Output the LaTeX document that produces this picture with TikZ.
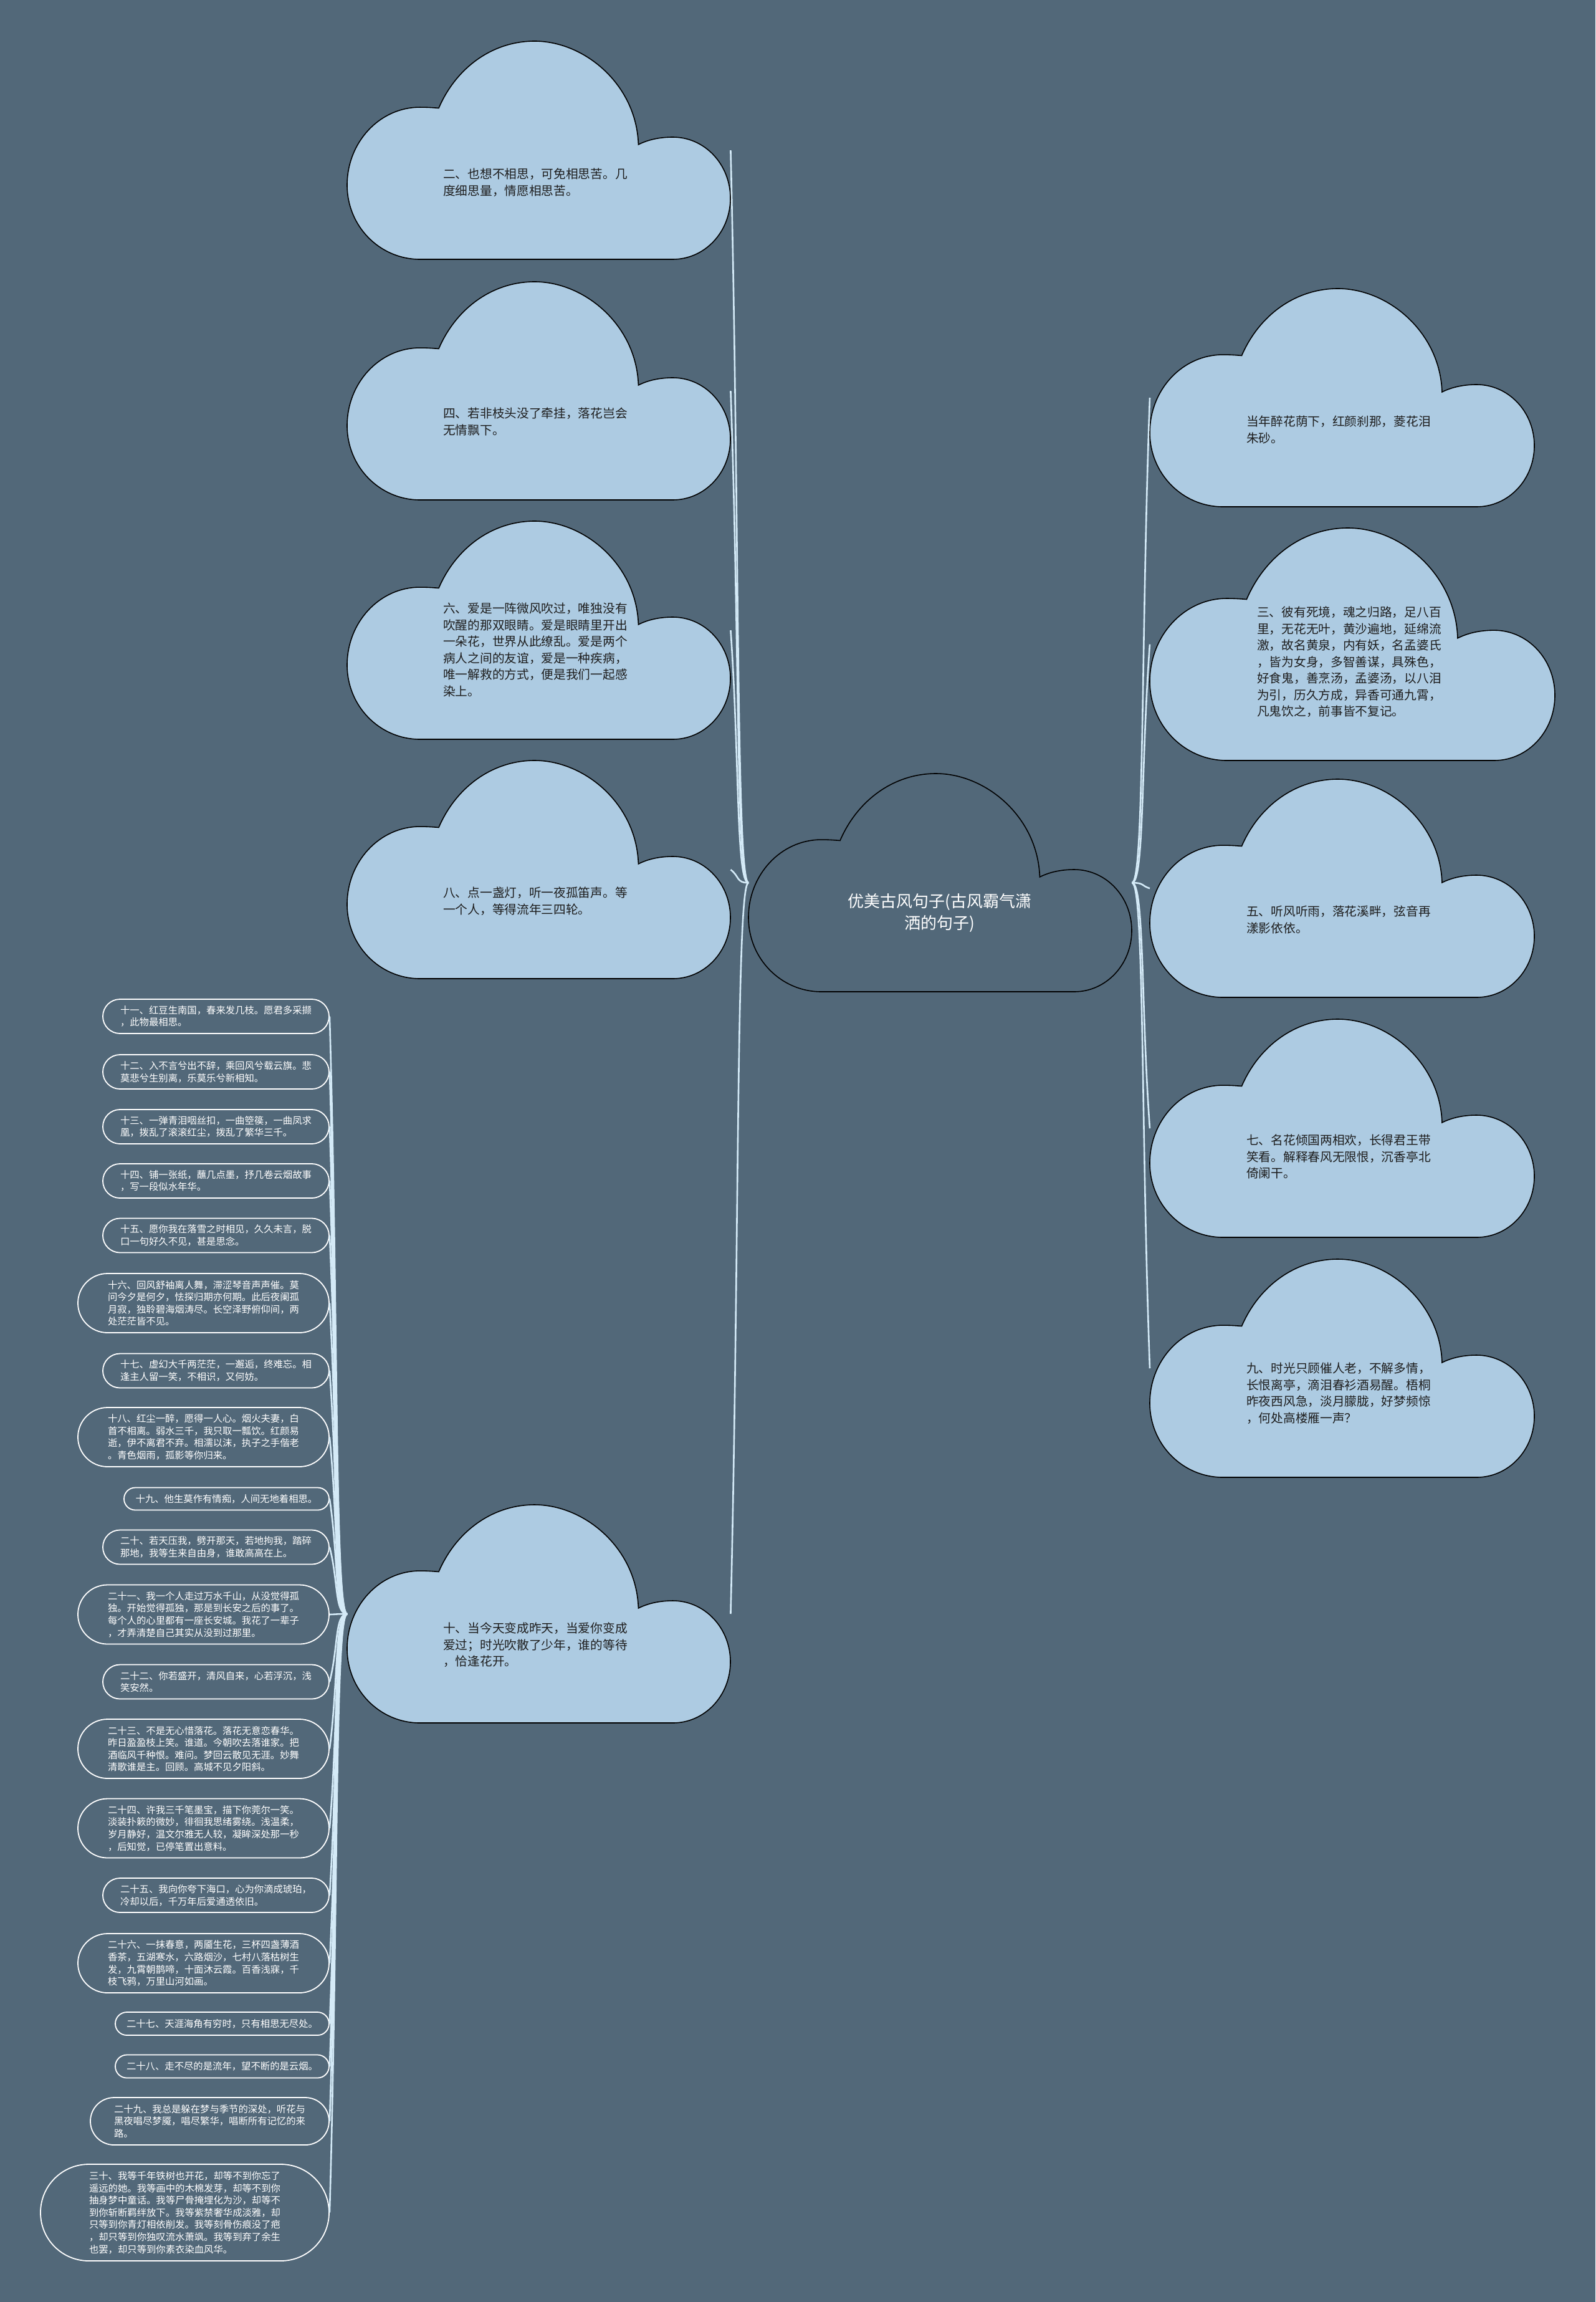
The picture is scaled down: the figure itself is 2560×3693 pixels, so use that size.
\documentclass[tikz,border=0pt]{standalone}
\usepackage{fontspec}
\newfontfamily\cjk{Noto Sans CJK SC}
\usetikzlibrary{shapes.misc,calc}
\definecolor{bgc}{RGB}{82,104,121}
\definecolor{cloudfill}{RGB}{173,203,226}
\definecolor{linkc}{RGB}{212,234,247}
\definecolor{inkc}{RGB}{30,30,30}
\newcommand{\mycloud}[6]{%
  \begin{scope}[shift={(#2,#3)},x=#4pt,y=-#5pt]
    \filldraw[fill=#6,draw=black,line width=1.6pt,line join=miter]
      (0.19,1) .. controls (0.085,1) and (0,0.848) .. (0,0.66)
      .. controls (0,0.463) and (0.085,0.303) .. (0.19,0.303)
      .. controls (0.21,0.303) and (0.225,0.305) .. (0.239,0.307)
      .. controls (0.285,0.12) and (0.38,0) .. (0.489,0)
      .. controls (0.62,0) and (0.755,0.2) .. (0.76,0.474)
      .. controls (0.785,0.452) and (0.815,0.44) .. (0.85,0.44)
      .. controls (0.933,0.44) and (1,0.565) .. (1,0.72)
      .. controls (1,0.875) and (0.933,1) .. (0.85,1) -- cycle;
  \end{scope}
  \node[cbox,minimum width=#4pt,minimum height=#5pt,anchor=north west] (#1) at (#2,#3) {};
}
\tikzset{
  cbox/.style={rectangle,draw=none,inner sep=0pt},
  ctext/.style={font=\cjk\fontsize{19.7pt}{26.5pt}\selectfont,align=left,inner sep=0pt,text=inkc,anchor=north west},
  roottext/.style={font=\cjk\fontsize{26pt}{35pt}\selectfont,align=center,inner sep=0pt,text=white},
  pill/.style={rounded rectangle,draw=white,line width=1.8pt,fill=bgc,text=white,
    font=\cjk\fontsize{15.35pt}{19.6pt}\selectfont,align=left,inner sep=0pt},
  link/.style={draw=linkc,line width=2.6pt},
}
\begin{document}
\begin{tikzpicture}[x=1pt,y=-1pt]
\fill[bgc] (0,0) rectangle (2560,3693);
\useasboundingbox (0,0) rectangle (2560,3693);

% clouds
\mycloud{C}{1201}{1241}{615}{350}{bgc}
\mycloud{L1}{557}{66}{615}{350}{cloudfill}
\mycloud{L2}{557}{452}{615}{350}{cloudfill}
\mycloud{L3}{557}{836}{615}{350}{cloudfill}
\mycloud{L4}{557}{1220}{615}{350}{cloudfill}
\mycloud{L10}{557}{2414}{615}{350}{cloudfill}
\mycloud{R1}{1845}{463}{617}{350}{cloudfill}
\mycloud{R2}{1845}{847}{650}{373}{cloudfill}
\mycloud{R3}{1845}{1250}{617}{350}{cloudfill}
\mycloud{R4}{1845}{1635}{617}{350}{cloudfill}
\mycloud{R5}{1845}{2020}{617}{350}{cloudfill}

% cloud texts
\node[roottext] (Ct) at (1508,1465) {优美古风句子(古风霸气潇\\洒的句子)};
\node[ctext] (L1t) at (711,270) {二、也想不相思，可免相思苦。几\\度细思量，情愿相思苦。};
\node[ctext] (L2t) at (711,654) {四、若非枝头没了牵挂，落花岂会\\无情飘下。};
\node[ctext] (L3t) at (711,967) {六、爱是一阵微风吹过，唯独没有\\吹醒的那双眼睛。爱是眼睛里开出\\一朵花，世界从此缭乱。爱是两个\\病人之间的友谊，爱是一种疾病，\\唯一解救的方式，便是我们一起感\\染上。};
\node[ctext] (L4t) at (711,1423) {八、点一盏灯，听一夜孤笛声。等\\一个人，等得流年三四轮。};
\node[ctext] (L10t) at (711,2603) {十、当今天变成昨天，当爱你变成\\爱过；时光吹散了少年，谁的等待\\，恰逢花开。};
\node[ctext] (R1t) at (2000,667) {当年醉花荫下，红颜刹那，菱花泪\\朱砂。};
\node[ctext] (R2t) at (2017,973) {三、彼有死境，魂之归路，足八百\\里，无花无叶，黄沙遍地，延绵流\\激，故名黄泉，内有妖，名孟婆氏\\，皆为女身，多智善谋，具殊色，\\好食鬼，善烹汤，孟婆汤，以八泪\\为引，历久方成，异香可通九霄，\\凡鬼饮之，前事皆不复记。};
\node[ctext] (R3t) at (2000,1453) {五、听风听雨，落花溪畔，弦音再\\漾影依依。};
\node[ctext] (R4t) at (2000,1820) {七、名花倾国两相欢，长得君王带\\笑看。解释春风无限恨，沉香亭北\\倚阑干。};
\node[ctext] (R5t) at (2000,2186) {九、时光只顾催人老，不解多情，\\长恨离亭，滴泪春衫酒易醒。梧桐\\昨夜西风急，淡月朦胧，好梦频惊\\，何处高楼雁一声？};

% list nodes (left of L10)
\node[pill,minimum width=363pt,minimum height=55pt] (n11) at (346.5,1630.5) {十一、红豆生南国，春来发几枝。愿君多采撷\\，此物最相思。};
\node[pill,minimum width=363pt,minimum height=55pt] (n12) at (346.5,1719.5) {十二、入不言兮出不辞，乘回风兮载云旗。悲\\莫悲兮生别离，乐莫乐兮新相知。};
\node[pill,minimum width=363pt,minimum height=55pt] (n13) at (346.5,1807.5) {十三、一弹青泪咽丝扣，一曲箜篌，一曲凤求\\凰，拨乱了滚滚红尘，拨乱了繁华三千。};
\node[pill,minimum width=363pt,minimum height=55pt] (n14) at (346.5,1894.5) {十四、铺一张纸，蘸几点墨，抒几卷云烟故事\\，写一段似水年华。};
\node[pill,minimum width=363pt,minimum height=55pt] (n15) at (346.5,1982) {十五、愿你我在落雪之时相见，久久未言，脱\\口一句好久不见，甚是思念。};
\node[pill,minimum width=403pt,minimum height=95pt] (n16) at (326.5,2090.5) {十六、回风舒袖离人舞，滞涩琴音声声催。莫\\问今夕是何夕，怯探归期亦何期。此后夜阑孤\\月寂，独聆碧海烟涛尽。长空泽野俯仰间，两\\处茫茫皆不见。};
\node[pill,minimum width=363pt,minimum height=55pt] (n17) at (346.5,2199) {十七、虚幻大千两茫茫，一邂逅，终难忘。相\\逢主人留一笑，不相识，又何妨。};
\node[pill,minimum width=403pt,minimum height=95pt] (n18) at (326.5,2305.5) {十八、红尘一醉，愿得一人心。烟火夫妻，白\\首不相离。弱水三千，我只取一瓢饮。红颜易\\逝，伊不离君不弃。相濡以沫，执子之手偕老\\。青色烟雨，孤影等你归来。};
\node[pill,minimum width=329pt,minimum height=36pt] (n19) at (363.5,2404.5) {十九、他生莫作有情痴，人间无地着相思。};
\node[pill,minimum width=363pt,minimum height=55pt] (n20) at (346.5,2482) {二十、若天压我，劈开那天，若地拘我，踏碎\\那地，我等生来自由身，谁敢高高在上。};
\node[pill,minimum width=403pt,minimum height=95pt] (n21) at (326.5,2590) {二十一、我一个人走过万水千山，从没觉得孤\\独。开始觉得孤独，那是到长安之后的事了。\\每个人的心里都有一座长安城。我花了一辈子\\，才弄清楚自己其实从没到过那里。};
\node[pill,minimum width=363pt,minimum height=55pt] (n22) at (346.5,2698) {二十二、你若盛开，清风自来，心若浮沉，浅\\笑安然。};
\node[pill,minimum width=403pt,minimum height=95pt] (n23) at (326.5,2805.5) {二十三、不是无心惜落花。落花无意恋春华。\\昨日盈盈枝上笑。谁道。今朝吹去落谁家。把\\酒临风千种恨。难问。梦回云散见无涯。妙舞\\清歌谁是主。回顾。高城不见夕阳斜。};
\node[pill,minimum width=403pt,minimum height=95pt] (n24) at (326.5,2933) {二十四、许我三千笔墨宝，描下你莞尔一笑。\\淡装扑簌的微妙，徘徊我思绪雾绕。浅温柔，\\岁月静好，温文尔雅无人较，凝眸深处那一秒\\，后知觉，已停笔置出意料。};
\node[pill,minimum width=363pt,minimum height=55pt] (n25) at (346.5,3040.5) {二十五、我向你夸下海口，心为你滴成琥珀，\\冷却以后，千万年后爱通透依旧。};
\node[pill,minimum width=403pt,minimum height=95pt] (n26) at (326.5,3149.5) {二十六、一抹春意，两靥生花，三杯四盏薄酒\\香茶，五湖寒水，六路烟沙，七村八落枯树生\\发，九霄朝鹊啼，十面沐云霞。百香浅寐，千\\枝飞鸦，万里山河如画。};
\node[pill,minimum width=343pt,minimum height=37pt] (n27) at (356.5,3246.5) {二十七、天涯海角有穷时，只有相思无尽处。};
\node[pill,minimum width=343pt,minimum height=37pt] (n28) at (356.5,3315) {二十八、走不尽的是流年，望不断的是云烟。};
\node[pill,minimum width=383pt,minimum height=76pt] (n29) at (336.5,3403) {二十九、我总是躲在梦与季节的深处，听花与\\黑夜唱尽梦魇，唱尽繁华，唱断所有记忆的来\\路。};
\node[pill,minimum width=463pt,minimum height=155pt] (n30) at (296.5,3549.5) {三十、我等千年铁树也开花，却等不到你忘了\\遥远的她。我等画中的木棉发芽，却等不到你\\抽身梦中童话。我等尸骨掩埋化为沙，却等不\\到你斩断羁绊放下。我等紫禁奢华成淡雅，却\\只等到你青灯相依削发。我等刻骨伤痕没了疤\\，却只等到你独叹流水萧飒。我等到弃了余生\\也罢，却只等到你素衣染血风华。};

% connectors
\foreach \n in {L1,L2,L3,L4,L10}
  \draw[link] (C.west) .. controls ($(C.west)+(-20,0)$) and ($(\n.east)!0.5!(C.west)$) .. (\n.east);
\foreach \n in {R1,R2,R3,R4,R5}
  \draw[link] (C.east) .. controls ($(C.east)+(20,0)$) and ($(\n.west)!0.5!(C.east)$) .. (\n.west);
\foreach \n in {n11,n12,n13,n14,n15,n16,n17,n18,n19,n20,n21,n22,n23,n24,n25,n26,n27,n28,n29,n30}
  \draw[link] (L10.west) .. controls ($(L10.west)+(-20,0)$) and ($(\n.east)!0.5!(L10.west)$) .. (\n.east);
\end{tikzpicture}
\end{document}
